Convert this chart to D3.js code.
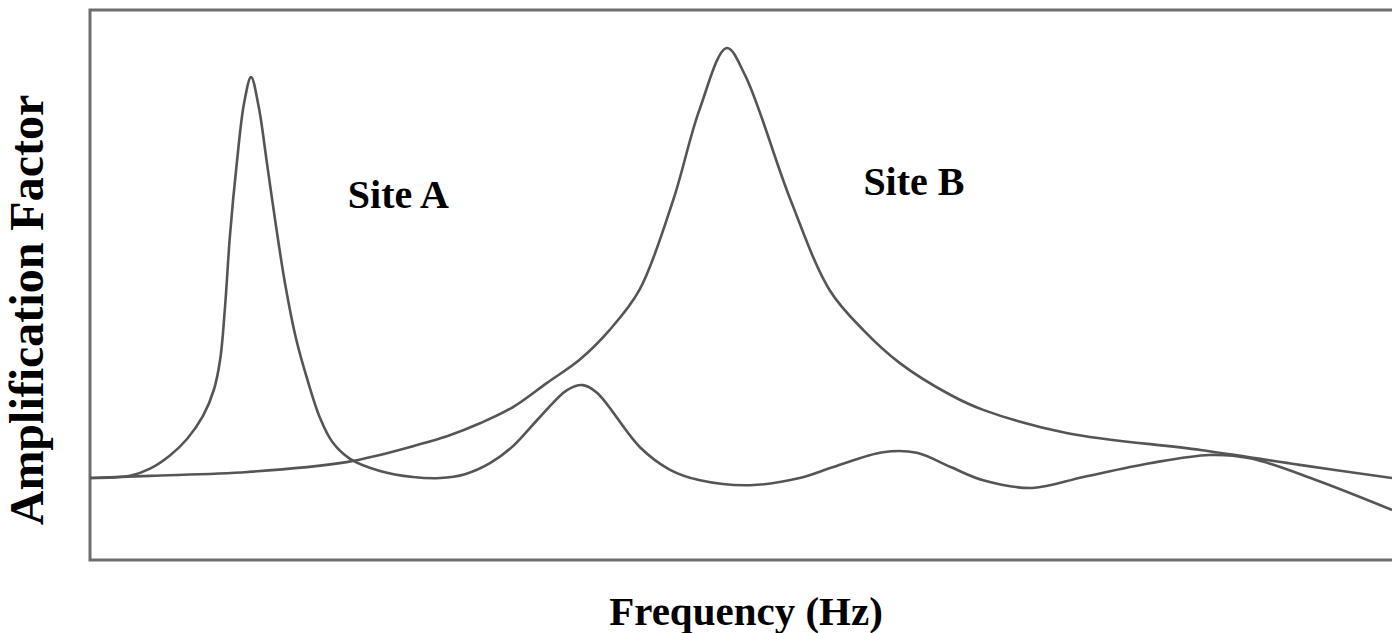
<!DOCTYPE html>
<html>
<head>
<meta charset="utf-8">
<script src="https://cdn.jsdelivr.net/npm/d3@7"></script>
<style>
  html, body { margin: 0; padding: 0; background: #fff; }
  svg { display: block; }
  text { font-family: "Liberation Serif", "Times New Roman", serif; font-weight: bold; fill: #000; }
</style>
</head>
<body>
<svg width="1392" height="633"></svg>
<script>
// frequency positions (arbitrary units, 0-100 across the frame)
var siteAFreq = [0, 3.07, 4.61, 6.14, 7.45, 8.68, 9.52, 10.0, 10.37, 10.75, 11.29, 11.83, 12.37, 12.95, 13.6, 14.3, 15.0, 15.8, 16.67, 17.67, 18.6, 19.97, 22.27, 24.81, 26.88, 28.8, 30.72, 32.49, 34.56, 36.64, 37.86, 38.94, 42.24, 44.55, 46.85, 50.7, 54.5, 57.1, 60.9, 63.5, 66.1, 68.6, 72.4, 76.3, 81.4, 86.0, 89.1, 94.2, 100];
var siteAAmp = [1.49, 1.53, 1.66, 1.9, 2.2, 2.62, 3.1, 3.65, 4.6, 5.9, 7.25, 8.3, 8.78, 8.25, 7.2, 6.05, 5.0, 4.05, 3.3, 2.58, 2.15, 1.84, 1.62, 1.51, 1.49, 1.56, 1.76, 2.07, 2.6, 3.09, 3.18, 3.04, 2.05, 1.64, 1.45, 1.36, 1.49, 1.69, 1.96, 1.95, 1.69, 1.45, 1.31, 1.51, 1.76, 1.91, 1.85, 1.45, 0.91];

var siteBFreq = [0, 4.6, 12.1, 19.7, 22.27, 24.81, 27.42, 30.0, 32.49, 35.1, 37.6, 39.9, 42.2, 44.8, 46.8, 48.9, 50.3, 53.8, 56.8, 59.4, 62.2, 66.1, 68.6, 75.0, 85.3, 92.9, 100];
var siteBAmp = [1.49, 1.53, 1.6, 1.78, 1.91, 2.07, 2.25, 2.49, 2.78, 3.22, 3.64, 4.18, 4.91, 6.55, 8.18, 9.31, 8.82, 6.55, 4.91, 4.18, 3.58, 3.0, 2.73, 2.31, 2.0, 1.73, 1.49];

var labels = ["Site A", "Site B"];
var labelPos = [[19.8, 6.4], [59.4, 6.64]];
var xTitle = "Frequency (Hz)";
var yTitle = "Amplification Factor";

var draw = function () {
    "use strict";
    var svg = d3.select("svg");
    var left = 90, topY = 10, right = 1392, bottom = 560;

    var x = d3.scaleLinear().domain([0, 100]).range([left, right]);
    var y = d3.scaleLinear().domain([0, 10]).range([bottom, topY]);

    // frame (open on the right, cut by the picture edge)
    svg.append("rect")
        .attr("x", left)
        .attr("y", topY)
        .attr("width", right - left + 10)
        .attr("height", bottom - topY)
        .attr("fill", "none")
        .attr("stroke", "#6e6e6e")
        .attr("stroke-width", 3);

    var line = d3.line()
        .x(function (d) { return x(d[0]); })
        .y(function (d) { return y(d[1]); })
        .curve(d3.curveCatmullRom.alpha(0.5));

    var series = [d3.zip(siteAFreq, siteAAmp), d3.zip(siteBFreq, siteBAmp)];
    svg.selectAll("path.curve").data(series).enter().append("path")
        .attr("class", "curve")
        .attr("d", line)
        .attr("fill", "none")
        .attr("stroke", "#555")
        .attr("stroke-width", 2.6)
        .attr("stroke-linejoin", "round");

    svg.selectAll("text.site").data(labels).enter().append("text")
        .attr("class", "site")
        .attr("x", function (d, i) { return x(labelPos[i][0]); })
        .attr("y", function (d, i) { return y(labelPos[i][1]); })
        .attr("font-size", 40)
        .text(function (d) { return d; });

    svg.append("text")
        .attr("x", 746)
        .attr("y", 625)
        .attr("text-anchor", "middle")
        .attr("font-size", 41)
        .text(xTitle);

    svg.append("text")
        .attr("transform", "translate(43,310) rotate(-90)")
        .attr("text-anchor", "middle")
        .attr("font-size", 48)
        .text(yTitle);
};

draw();
</script>
</body>
</html>
